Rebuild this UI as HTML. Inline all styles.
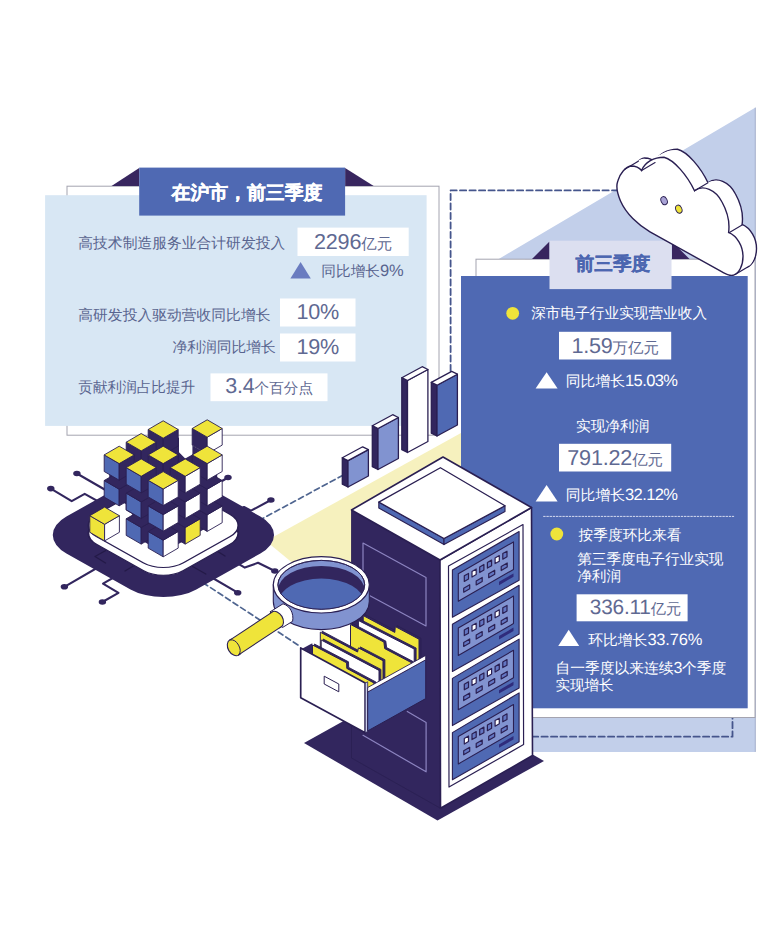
<!DOCTYPE html>
<html lang="zh"><head><meta charset="utf-8"><title>infographic</title>
<style>
html,body{margin:0;padding:0;background:#fff}
body{width:768px;height:938px;position:relative;overflow:hidden;font-family:"Liberation Sans",sans-serif}
svg{position:absolute;left:0;top:0}
.t{position:absolute;white-space:nowrap;line-height:1.2;text-rendering:geometricPrecision;font-family:"Liberation Sans",sans-serif}
.b{text-align:center;height:30px;line-height:30px}
.ib{display:inline-block;white-space:nowrap}
.j{text-align:justify;text-align-last:justify}
.n{font-family:"Liberation Sans",sans-serif;letter-spacing:-0.2px}
</style></head><body>
<svg width="768" height="938" viewBox="0 0 768 938">
<polygon points="755.5,107.5 755.5,752.0 525.0,752.0 525.0,259.0 498.7,259.0" fill="#c2cfea" />
<polyline points="755.3,108.0 755.3,751.5" fill="none" stroke="#9aa6c4" stroke-width="0.8" stroke-linejoin="round" stroke-linecap="round" />
<polygon points="266.0,541.0 461.0,433.0 461.0,530.0 335.0,598.0" fill="#f6f1be" />
<rect x="67.0" y="186.2" width="372.0" height="249.0" fill="#fff" stroke="#a4a4b0" stroke-width="1" />
<rect x="45.1" y="195.2" width="381.5" height="230.7" fill="#d8e7f4" />
<polygon points="139.2,168.0 139.2,186.0 111.5,186.0" fill="#38265f" />
<polygon points="345.1,168.0 373.7,186.0 345.1,186.0" fill="#38265f" />
<rect x="139.2" y="167.6" width="205.9" height="48.0" fill="#4f69b3" />
<rect x="297.5" y="227.6" width="111.2" height="28.4" fill="#fff" />
<rect x="280.0" y="298.5" width="75.5" height="28.0" fill="#fff" />
<rect x="280.0" y="333.5" width="75.5" height="28.0" fill="#fff" />
<rect x="210.5" y="373.4" width="117.0" height="27.8" fill="#fff" />
<polygon points="300.6,262.0 310.8,278.4 290.4,278.4" fill="#6a7cc0" />
<polyline points="450.6,371.0 450.6,190.4 620.0,190.4" fill="none" stroke="#45558c" stroke-width="1.8" stroke-linejoin="round" stroke-linecap="round" stroke-dasharray="6.2 3.3"/>
<polyline points="532.0,736.7 732.5,736.7 732.5,718.0" fill="none" stroke="#45558c" stroke-width="1.8" stroke-linejoin="round" stroke-linecap="round" stroke-dasharray="6.2 3.3"/>
<rect x="476.0" y="259.2" width="279.0" height="458.3" fill="#fff" stroke="#a4a4b0" stroke-width="1" />
<rect x="461.0" y="276.0" width="286.7" height="432.3" fill="#4f69b3" />
<polygon points="549.5,241.5 549.5,259.0 532.0,259.0" fill="#38265f" />
<polygon points="672.0,241.5 672.0,259.0 689.5,259.0" fill="#38265f" />
<rect x="549.5" y="240.7" width="122.0" height="48.4" fill="#dcdff0" />
<rect x="559.0" y="331.8" width="112.2" height="27.7" fill="#fff" />
<rect x="559.0" y="443.8" width="112.2" height="27.7" fill="#fff" />
<rect x="576.6" y="594.3" width="111.0" height="27.0" fill="#fff" />
<polygon points="546.6,372.2 557.6,388.6 535.6,388.6" fill="#fff" />
<polygon points="546.6,485.0 557.6,501.4 535.6,501.4" fill="#fff" />
<polygon points="568.7,629.8 579.2,646.0 558.2,646.0" fill="#fff" />
<circle cx="512.7" cy="313.3" r="6.4" fill="#efe43a"/>
<circle cx="556.8" cy="534.0" r="6.4" fill="#efe43a"/>
<polyline points="543.6,516.4 733.7,516.4" fill="none" stroke="#d5daf0" stroke-width="1" stroke-linejoin="round" stroke-linecap="round" stroke-dasharray="1.6 1.6"/>
<polyline points="343.0,475.2 263.0,518.3" fill="none" stroke="#4f6590" stroke-width="1.7" stroke-linejoin="round" stroke-linecap="round" stroke-dasharray="5.5 3.5"/>
<polyline points="203.0,582.7 300.0,646.3" fill="none" stroke="#4f6590" stroke-width="1.7" stroke-linejoin="round" stroke-linecap="round" stroke-dasharray="5.5 3.5"/>
<polyline points="76.9,473.5 105.5,490.0 120.0,498.0" fill="none" stroke="#32265e" stroke-width="2.1" stroke-linejoin="round" stroke-linecap="round" />
<ellipse cx="76.9" cy="473.5" rx="3.7" ry="2.8" fill="#32265e" />
<polyline points="50.8,488.6 71.7,501.1 84.7,493.9 110.0,508.0" fill="none" stroke="#32265e" stroke-width="2.1" stroke-linejoin="round" stroke-linecap="round" />
<ellipse cx="50.8" cy="488.6" rx="3.7" ry="2.8" fill="#32265e" />
<polyline points="64.4,586.8 105.5,563.0" fill="none" stroke="#32265e" stroke-width="2.1" stroke-linejoin="round" stroke-linecap="round" />
<ellipse cx="64.4" cy="586.8" rx="3.7" ry="2.8" fill="#32265e" />
<polyline points="102.4,602.0 118.5,592.8 103.0,583.7 125.0,571.0" fill="none" stroke="#32265e" stroke-width="2.1" stroke-linejoin="round" stroke-linecap="round" />
<ellipse cx="102.4" cy="602.0" rx="3.7" ry="2.8" fill="#32265e" />
<polyline points="228.0,477.5 205.0,491.0" fill="none" stroke="#32265e" stroke-width="2.1" stroke-linejoin="round" stroke-linecap="round" />
<ellipse cx="228.0" cy="477.5" rx="3.7" ry="2.8" fill="#32265e" />
<polyline points="270.9,500.0 251.0,510.7 244.0,507.0 225.0,518.0" fill="none" stroke="#32265e" stroke-width="2.1" stroke-linejoin="round" stroke-linecap="round" />
<ellipse cx="270.9" cy="500.0" rx="3.7" ry="2.8" fill="#32265e" />
<polyline points="274.8,571.0 258.0,562.8 244.8,567.6 225.0,556.0" fill="none" stroke="#32265e" stroke-width="2.1" stroke-linejoin="round" stroke-linecap="round" />
<ellipse cx="274.8" cy="571.0" rx="3.7" ry="2.8" fill="#32265e" />
<polyline points="237.7,592.7 205.8,574.0" fill="none" stroke="#32265e" stroke-width="2.1" stroke-linejoin="round" stroke-linecap="round" />
<ellipse cx="237.7" cy="592.7" rx="3.7" ry="2.8" fill="#32265e" />
<rect x="-75.0" y="-75.0" width="150.0" height="150.0" rx="38.0" fill="#32265e" transform="matrix(0.866 0.486 -0.866 0.486 163.4 535.0)"/>
<polyline points="105.5,563.0 95.0,556.5 112.0,547.0" fill="none" stroke="#241a48" stroke-width="1.4" stroke-linejoin="round" stroke-linecap="round" />
<polyline points="125.0,571.0 140.0,562.0" fill="none" stroke="#241a48" stroke-width="1.4" stroke-linejoin="round" stroke-linecap="round" />
<polyline points="205.8,574.0 190.0,565.0" fill="none" stroke="#241a48" stroke-width="1.4" stroke-linejoin="round" stroke-linecap="round" />
<polyline points="225.0,556.0 212.0,548.0" fill="none" stroke="#241a48" stroke-width="1.4" stroke-linejoin="round" stroke-linecap="round" />
<rect x="-50.0" y="-50.0" width="100.0" height="100.0" rx="23.0" fill="#fff" stroke="#2a1f52" stroke-width="1.5" transform="matrix(0.866 0.486 -0.866 0.486 163.3 533.3)"/>
<rect x="-50.0" y="-50.0" width="100.0" height="100.0" rx="23.0" fill="#fff" stroke="#2a1f52" stroke-width="1.4" transform="matrix(0.866 0.486 -0.866 0.486 163.3 525.5)"/>
<polygon points="109.2,459.9 163.2,428.8 179.0,437.9 179.0,452.2 185.2,458.6 192.4,454.4 192.4,445.6 217.2,459.9 217.2,521.7 163.2,552.8 132.2,535.0 132.2,507.8 109.2,494.5" fill="#32265e" />
<polygon points="192.2,428.5 207.2,437.2 207.2,453.8 192.2,445.1" fill="#32265e" stroke="#2a1f52" stroke-width="0.9" stroke-linejoin="round" />
<polygon points="207.2,437.2 222.2,428.5 222.2,445.1 207.2,453.8" fill="#fff" stroke="#2a1f52" stroke-width="0.9" stroke-linejoin="round" />
<polygon points="207.2,419.8 222.2,428.5 207.2,437.2 192.2,428.5" fill="#efe43a" stroke="#2a1f52" stroke-width="0.9" stroke-linejoin="round" />
<polygon points="148.2,480.7 163.2,489.4 163.2,506.0 148.2,497.3" fill="#32265e" stroke="#2a1f52" stroke-width="0.9" stroke-linejoin="round" />
<polygon points="163.2,489.4 178.2,480.7 178.2,497.3 163.2,506.0" fill="#32265e" stroke="#2a1f52" stroke-width="0.9" stroke-linejoin="round" />
<polygon points="163.2,472.0 178.2,480.7 163.2,489.4 148.2,480.7" fill="#32265e" stroke="#2a1f52" stroke-width="0.9" stroke-linejoin="round" />
<polygon points="126.2,493.4 141.2,502.1 141.2,518.7 126.2,510.0" fill="#32265e" stroke="#2a1f52" stroke-width="0.9" stroke-linejoin="round" />
<polygon points="141.2,502.1 156.2,493.4 156.2,510.0 141.2,518.7" fill="#32265e" stroke="#2a1f52" stroke-width="0.9" stroke-linejoin="round" />
<polygon points="141.2,484.7 156.2,493.4 141.2,502.1 126.2,493.4" fill="#32265e" stroke="#2a1f52" stroke-width="0.9" stroke-linejoin="round" />
<polygon points="170.2,493.4 185.2,502.1 185.2,518.7 170.2,510.0" fill="#32265e" stroke="#2a1f52" stroke-width="0.9" stroke-linejoin="round" />
<polygon points="185.2,502.1 200.2,493.4 200.2,510.0 185.2,518.7" fill="#32265e" stroke="#2a1f52" stroke-width="0.9" stroke-linejoin="round" />
<polygon points="185.2,484.7 200.2,493.4 185.2,502.1 170.2,493.4" fill="#32265e" stroke="#2a1f52" stroke-width="0.9" stroke-linejoin="round" />
<polygon points="148.2,506.1 163.2,514.8 163.2,531.4 148.2,522.7" fill="#32265e" stroke="#2a1f52" stroke-width="0.9" stroke-linejoin="round" />
<polygon points="163.2,514.8 178.2,506.1 178.2,522.7 163.2,531.4" fill="#32265e" stroke="#2a1f52" stroke-width="0.9" stroke-linejoin="round" />
<polygon points="163.2,497.4 178.2,506.1 163.2,514.8 148.2,506.1" fill="#32265e" stroke="#2a1f52" stroke-width="0.9" stroke-linejoin="round" />
<polygon points="192.2,506.1 207.2,514.8 207.2,531.4 192.2,522.7" fill="#32265e" stroke="#2a1f52" stroke-width="0.9" stroke-linejoin="round" />
<polygon points="207.2,514.8 222.2,506.1 222.2,522.7 207.2,531.4" fill="#fff" stroke="#2a1f52" stroke-width="0.9" stroke-linejoin="round" />
<polygon points="207.2,497.4 222.2,506.1 207.2,514.8 192.2,506.1" fill="#32265e" stroke="#2a1f52" stroke-width="0.9" stroke-linejoin="round" />
<polygon points="126.2,518.8 141.2,527.5 141.2,544.1 126.2,535.4" fill="#4f69b3" stroke="#2a1f52" stroke-width="0.9" stroke-linejoin="round" />
<polygon points="141.2,527.5 156.2,518.8 156.2,535.4 141.2,544.1" fill="#32265e" stroke="#2a1f52" stroke-width="0.9" stroke-linejoin="round" />
<polygon points="141.2,510.1 156.2,518.8 141.2,527.5 126.2,518.8" fill="#32265e" stroke="#2a1f52" stroke-width="0.9" stroke-linejoin="round" />
<polygon points="170.2,518.8 185.2,527.5 185.2,544.1 170.2,535.4" fill="#32265e" stroke="#2a1f52" stroke-width="0.9" stroke-linejoin="round" />
<polygon points="185.2,527.5 200.2,518.8 200.2,535.4 185.2,544.1" fill="#efe43a" stroke="#2a1f52" stroke-width="0.9" stroke-linejoin="round" />
<polygon points="185.2,510.1 200.2,518.8 185.2,527.5 170.2,518.8" fill="#32265e" stroke="#2a1f52" stroke-width="0.9" stroke-linejoin="round" />
<polygon points="148.2,531.5 163.2,540.2 163.2,556.8 148.2,548.1" fill="#4f69b3" stroke="#2a1f52" stroke-width="0.9" stroke-linejoin="round" />
<polygon points="163.2,540.2 178.2,531.5 178.2,548.1 163.2,556.8" fill="#fff" stroke="#2a1f52" stroke-width="0.9" stroke-linejoin="round" />
<polygon points="163.2,522.8 178.2,531.5 163.2,540.2 148.2,531.5" fill="#32265e" stroke="#2a1f52" stroke-width="0.9" stroke-linejoin="round" />
<polygon points="148.2,455.1 163.2,463.8 163.2,480.4 148.2,471.7" fill="#32265e" stroke="#2a1f52" stroke-width="0.9" stroke-linejoin="round" />
<polygon points="163.2,463.8 178.2,455.1 178.2,471.7 163.2,480.4" fill="#32265e" stroke="#2a1f52" stroke-width="0.9" stroke-linejoin="round" />
<polygon points="163.2,446.4 178.2,455.1 163.2,463.8 148.2,455.1" fill="#32265e" stroke="#2a1f52" stroke-width="0.9" stroke-linejoin="round" />
<polygon points="126.2,467.8 141.2,476.5 141.2,493.1 126.2,484.4" fill="#32265e" stroke="#2a1f52" stroke-width="0.9" stroke-linejoin="round" />
<polygon points="141.2,476.5 156.2,467.8 156.2,484.4 141.2,493.1" fill="#32265e" stroke="#2a1f52" stroke-width="0.9" stroke-linejoin="round" />
<polygon points="141.2,459.1 156.2,467.8 141.2,476.5 126.2,467.8" fill="#32265e" stroke="#2a1f52" stroke-width="0.9" stroke-linejoin="round" />
<polygon points="170.2,467.8 185.2,476.5 185.2,493.1 170.2,484.4" fill="#32265e" stroke="#2a1f52" stroke-width="0.9" stroke-linejoin="round" />
<polygon points="185.2,476.5 200.2,467.8 200.2,484.4 185.2,493.1" fill="#32265e" stroke="#2a1f52" stroke-width="0.9" stroke-linejoin="round" />
<polygon points="185.2,459.1 200.2,467.8 185.2,476.5 170.2,467.8" fill="#32265e" stroke="#2a1f52" stroke-width="0.9" stroke-linejoin="round" />
<polygon points="104.2,480.5 119.2,489.2 119.2,505.8 104.2,497.1" fill="#4f69b3" stroke="#2a1f52" stroke-width="0.9" stroke-linejoin="round" />
<polygon points="119.2,489.2 134.2,480.5 134.2,497.1 119.2,505.8" fill="#32265e" stroke="#2a1f52" stroke-width="0.9" stroke-linejoin="round" />
<polygon points="119.2,471.8 134.2,480.5 119.2,489.2 104.2,480.5" fill="#32265e" stroke="#2a1f52" stroke-width="0.9" stroke-linejoin="round" />
<polygon points="148.2,480.5 163.2,489.2 163.2,505.8 148.2,497.1" fill="#32265e" stroke="#2a1f52" stroke-width="0.9" stroke-linejoin="round" />
<polygon points="163.2,489.2 178.2,480.5 178.2,497.1 163.2,505.8" fill="#32265e" stroke="#2a1f52" stroke-width="0.9" stroke-linejoin="round" />
<polygon points="163.2,471.8 178.2,480.5 163.2,489.2 148.2,480.5" fill="#32265e" stroke="#2a1f52" stroke-width="0.9" stroke-linejoin="round" />
<polygon points="192.2,480.5 207.2,489.2 207.2,505.8 192.2,497.1" fill="#32265e" stroke="#2a1f52" stroke-width="0.9" stroke-linejoin="round" />
<polygon points="207.2,489.2 222.2,480.5 222.2,497.1 207.2,505.8" fill="#fff" stroke="#2a1f52" stroke-width="0.9" stroke-linejoin="round" />
<polygon points="207.2,471.8 222.2,480.5 207.2,489.2 192.2,480.5" fill="#32265e" stroke="#2a1f52" stroke-width="0.9" stroke-linejoin="round" />
<polygon points="126.2,493.2 141.2,501.9 141.2,518.5 126.2,509.8" fill="#4f69b3" stroke="#2a1f52" stroke-width="0.9" stroke-linejoin="round" />
<polygon points="141.2,501.9 156.2,493.2 156.2,509.8 141.2,518.5" fill="#32265e" stroke="#2a1f52" stroke-width="0.9" stroke-linejoin="round" />
<polygon points="141.2,484.5 156.2,493.2 141.2,501.9 126.2,493.2" fill="#32265e" stroke="#2a1f52" stroke-width="0.9" stroke-linejoin="round" />
<polygon points="170.2,493.2 185.2,501.9 185.2,518.5 170.2,509.8" fill="#32265e" stroke="#2a1f52" stroke-width="0.9" stroke-linejoin="round" />
<polygon points="185.2,501.9 200.2,493.2 200.2,509.8 185.2,518.5" fill="#fff" stroke="#2a1f52" stroke-width="0.9" stroke-linejoin="round" />
<polygon points="185.2,484.5 200.2,493.2 185.2,501.9 170.2,493.2" fill="#32265e" stroke="#2a1f52" stroke-width="0.9" stroke-linejoin="round" />
<polygon points="148.2,505.9 163.2,514.6 163.2,531.2 148.2,522.5" fill="#4f69b3" stroke="#2a1f52" stroke-width="0.9" stroke-linejoin="round" />
<polygon points="163.2,514.6 178.2,505.9 178.2,522.5 163.2,531.2" fill="#fff" stroke="#2a1f52" stroke-width="0.9" stroke-linejoin="round" />
<polygon points="163.2,497.2 178.2,505.9 163.2,514.6 148.2,505.9" fill="#32265e" stroke="#2a1f52" stroke-width="0.9" stroke-linejoin="round" />
<polygon points="148.2,429.5 163.2,438.2 163.2,454.8 148.2,446.1" fill="#32265e" stroke="#2a1f52" stroke-width="0.9" stroke-linejoin="round" />
<polygon points="163.2,438.2 178.2,429.5 178.2,446.1 163.2,454.8" fill="#32265e" stroke="#2a1f52" stroke-width="0.9" stroke-linejoin="round" />
<polygon points="163.2,420.8 178.2,429.5 163.2,438.2 148.2,429.5" fill="#efe43a" stroke="#2a1f52" stroke-width="0.9" stroke-linejoin="round" />
<polygon points="126.2,442.2 141.2,450.9 141.2,467.5 126.2,458.8" fill="#32265e" stroke="#2a1f52" stroke-width="0.9" stroke-linejoin="round" />
<polygon points="141.2,450.9 156.2,442.2 156.2,458.8 141.2,467.5" fill="#32265e" stroke="#2a1f52" stroke-width="0.9" stroke-linejoin="round" />
<polygon points="141.2,433.5 156.2,442.2 141.2,450.9 126.2,442.2" fill="#efe43a" stroke="#2a1f52" stroke-width="0.9" stroke-linejoin="round" />
<polygon points="104.2,454.9 119.2,463.6 119.2,480.2 104.2,471.5" fill="#4f69b3" stroke="#2a1f52" stroke-width="0.9" stroke-linejoin="round" />
<polygon points="119.2,463.6 134.2,454.9 134.2,471.5 119.2,480.2" fill="#32265e" stroke="#2a1f52" stroke-width="0.9" stroke-linejoin="round" />
<polygon points="119.2,446.2 134.2,454.9 119.2,463.6 104.2,454.9" fill="#efe43a" stroke="#2a1f52" stroke-width="0.9" stroke-linejoin="round" />
<polygon points="148.2,454.9 163.2,463.6 163.2,480.2 148.2,471.5" fill="#32265e" stroke="#2a1f52" stroke-width="0.9" stroke-linejoin="round" />
<polygon points="163.2,463.6 178.2,454.9 178.2,471.5 163.2,480.2" fill="#32265e" stroke="#2a1f52" stroke-width="0.9" stroke-linejoin="round" />
<polygon points="163.2,446.2 178.2,454.9 163.2,463.6 148.2,454.9" fill="#efe43a" stroke="#2a1f52" stroke-width="0.9" stroke-linejoin="round" />
<polygon points="192.2,454.9 207.2,463.6 207.2,480.2 192.2,471.5" fill="#32265e" stroke="#2a1f52" stroke-width="0.9" stroke-linejoin="round" />
<polygon points="207.2,463.6 222.2,454.9 222.2,471.5 207.2,480.2" fill="#fff" stroke="#2a1f52" stroke-width="0.9" stroke-linejoin="round" />
<polygon points="207.2,446.2 222.2,454.9 207.2,463.6 192.2,454.9" fill="#efe43a" stroke="#2a1f52" stroke-width="0.9" stroke-linejoin="round" />
<polygon points="126.2,467.6 141.2,476.3 141.2,492.9 126.2,484.2" fill="#4f69b3" stroke="#2a1f52" stroke-width="0.9" stroke-linejoin="round" />
<polygon points="141.2,476.3 156.2,467.6 156.2,484.2 141.2,492.9" fill="#32265e" stroke="#2a1f52" stroke-width="0.9" stroke-linejoin="round" />
<polygon points="141.2,458.9 156.2,467.6 141.2,476.3 126.2,467.6" fill="#efe43a" stroke="#2a1f52" stroke-width="0.9" stroke-linejoin="round" />
<polygon points="170.2,467.6 185.2,476.3 185.2,492.9 170.2,484.2" fill="#32265e" stroke="#2a1f52" stroke-width="0.9" stroke-linejoin="round" />
<polygon points="185.2,476.3 200.2,467.6 200.2,484.2 185.2,492.9" fill="#fff" stroke="#2a1f52" stroke-width="0.9" stroke-linejoin="round" />
<polygon points="185.2,458.9 200.2,467.6 185.2,476.3 170.2,467.6" fill="#efe43a" stroke="#2a1f52" stroke-width="0.9" stroke-linejoin="round" />
<polygon points="148.2,480.3 163.2,489.0 163.2,505.6 148.2,496.9" fill="#4f69b3" stroke="#2a1f52" stroke-width="0.9" stroke-linejoin="round" />
<polygon points="163.2,489.0 178.2,480.3 178.2,496.9 163.2,505.6" fill="#fff" stroke="#2a1f52" stroke-width="0.9" stroke-linejoin="round" />
<polygon points="163.2,471.6 178.2,480.3 163.2,489.0 148.2,480.3" fill="#efe43a" stroke="#2a1f52" stroke-width="0.9" stroke-linejoin="round" />
<polygon points="89.8,515.7 104.6,524.3 104.6,540.9 89.8,532.3" fill="#efe43a" stroke="#2a1f52" stroke-width="0.9" stroke-linejoin="round" />
<polygon points="104.6,524.3 119.4,515.7 119.4,532.3 104.6,540.9" fill="#fff" stroke="#2a1f52" stroke-width="0.9" stroke-linejoin="round" />
<polygon points="104.6,507.1 119.4,515.7 104.6,524.3 89.8,515.7" fill="#efe43a" stroke="#2a1f52" stroke-width="0.9" stroke-linejoin="round" />
<polygon points="342.3,484.2 348.0,487.0 348.0,460.6 342.3,457.8" fill="#32265e" stroke="#2a1f52" stroke-width="1.3" stroke-linejoin="round" />
<polygon points="348.0,487.0 368.4,476.0 368.4,449.6 348.0,460.6" fill="#8193d0" stroke="#2a1f52" stroke-width="1.3" stroke-linejoin="round" />
<polygon points="342.3,457.8 348.0,460.6 368.4,449.6 362.7,446.8" fill="#fff" stroke="#2a1f52" stroke-width="1.3" stroke-linejoin="round" />
<polygon points="372.3,466.7 378.0,469.5 378.0,428.5 372.3,425.7" fill="#32265e" stroke="#2a1f52" stroke-width="1.3" stroke-linejoin="round" />
<polygon points="378.0,469.5 398.4,458.5 398.4,417.5 378.0,428.5" fill="#8193d0" stroke="#2a1f52" stroke-width="1.3" stroke-linejoin="round" />
<polygon points="372.3,425.7 378.0,428.5 398.4,417.5 392.7,414.7" fill="#fff" stroke="#2a1f52" stroke-width="1.3" stroke-linejoin="round" />
<polygon points="401.8,449.7 407.5,452.5 407.5,380.5 401.8,377.7" fill="#32265e" stroke="#2a1f52" stroke-width="1.3" stroke-linejoin="round" />
<polygon points="407.5,452.5 427.9,441.5 427.9,369.5 407.5,380.5" fill="#fff" stroke="#2a1f52" stroke-width="1.3" stroke-linejoin="round" />
<polygon points="401.8,377.7 407.5,380.5 427.9,369.5 422.2,366.7" fill="#fff" stroke="#2a1f52" stroke-width="1.3" stroke-linejoin="round" />
<polygon points="431.3,433.2 437.0,436.0 437.0,385.2 431.3,382.4" fill="#32265e" stroke="#2a1f52" stroke-width="1.3" stroke-linejoin="round" />
<polygon points="437.0,436.0 457.4,425.0 457.4,374.2 437.0,385.2" fill="#4f69b3" stroke="#2a1f52" stroke-width="1.3" stroke-linejoin="round" />
<polygon points="431.3,382.4 437.0,385.2 457.4,374.2 451.7,371.4" fill="#fff" stroke="#2a1f52" stroke-width="1.3" stroke-linejoin="round" />
<polygon points="304.0,743.0 437.5,820.5 544.0,761.0 410.0,684.0" fill="#32265e" />
<polygon points="351.5,510.0 440.0,560.0 440.5,808.3 351.5,758.0" fill="#32265e" stroke="#2a1f52" stroke-width="0.8" stroke-linejoin="round" />
<polygon points="440.0,560.0 531.5,507.5 532.5,755.5 440.5,808.3" fill="#fff" stroke="#2a1f52" stroke-width="1.6" stroke-linejoin="round" />
<polygon points="443.0,457.0 531.5,507.5 440.0,560.0 351.5,510.0" fill="#fff" stroke="#2a1f52" stroke-width="1.6" stroke-linejoin="round" />
<polygon points="378.8,502.1 444.0,538.5 444.0,544.6 378.8,508.0" fill="#4f69b3" stroke="#2a1f52" stroke-width="1.1" stroke-linejoin="round" />
<polygon points="444.0,538.5 505.0,505.8 505.0,511.6 444.0,544.6" fill="#4f69b3" stroke="#2a1f52" stroke-width="1.1" stroke-linejoin="round" />
<polygon points="440.4,467.7 505.0,505.8 444.0,538.5 378.8,502.1" fill="#fff" stroke="#2a1f52" stroke-width="1.3" stroke-linejoin="round" />
<polygon points="363.0,543.0 426.0,577.5 426.0,626.0 363.0,592.0" fill="none" stroke="#8c84c0" stroke-width="1.2" stroke-linejoin="round" />
<polyline points="407.3,711.4 426.1,722.4 426.1,771.8 363.0,735.3" fill="none" stroke="#8c84c0" stroke-width="1.2" stroke-linejoin="round" stroke-linecap="round" />
<polygon points="448.5,566.0 523.0,524.6 523.6,744.6 449.0,787.0" fill="none" stroke="#2a1f52" stroke-width="1.2" stroke-linejoin="round" />
<polygon points="452.4,570.0 519.1,531.5 519.1,580.3 452.4,617.2" fill="#4f69b3" stroke="#2a1f52" stroke-width="1.1" stroke-linejoin="round" />
<polygon points="458.3,573.8 513.5,541.9 513.5,569.4 458.3,601.3" fill="#8193d0" stroke="#2a1f52" stroke-width="1.1" stroke-linejoin="round" />
<polygon points="464.3,575.8 468.5,573.4 468.5,579.0 464.3,581.4" fill="#6376c2" stroke="#2a1f52" stroke-width="1.2" stroke-linejoin="round" />
<polygon points="472.0,571.4 476.2,569.0 476.2,574.6 472.0,577.0" fill="#fff" stroke="#2a1f52" stroke-width="1.2" stroke-linejoin="round" />
<polygon points="479.7,566.9 483.9,564.5 483.9,570.1 479.7,572.5" fill="#6376c2" stroke="#2a1f52" stroke-width="1.2" stroke-linejoin="round" />
<polygon points="487.4,562.5 491.6,560.1 491.6,565.7 487.4,568.1" fill="#6376c2" stroke="#2a1f52" stroke-width="1.2" stroke-linejoin="round" />
<polygon points="495.1,558.0 499.3,555.6 499.3,561.2 495.1,563.6" fill="#fff" stroke="#2a1f52" stroke-width="1.2" stroke-linejoin="round" />
<polygon points="502.8,553.6 507.0,551.2 507.0,556.8 502.8,559.2" fill="#6376c2" stroke="#2a1f52" stroke-width="1.2" stroke-linejoin="round" />
<polygon points="463.7,588.2 469.7,584.7 469.7,588.7 463.7,592.2" fill="#6376c2" stroke="#2a1f52" stroke-width="1.2" stroke-linejoin="round" />
<polygon points="476.2,580.9 482.2,577.4 482.2,581.4 476.2,584.9" fill="#6376c2" stroke="#2a1f52" stroke-width="1.2" stroke-linejoin="round" />
<polygon points="488.7,573.7 494.7,570.2 494.7,574.2 488.7,577.7" fill="#6376c2" stroke="#2a1f52" stroke-width="1.2" stroke-linejoin="round" />
<polygon points="501.2,566.5 507.2,563.0 507.2,567.0 501.2,570.5" fill="#6376c2" stroke="#2a1f52" stroke-width="1.2" stroke-linejoin="round" />
<polygon points="499.0,581.8 513.5,573.4 513.5,576.8 499.0,585.2" fill="#2f2c7c" />
<polygon points="452.4,624.2 519.1,585.3 519.1,634.1 452.4,671.4" fill="#4f69b3" stroke="#2a1f52" stroke-width="1.1" stroke-linejoin="round" />
<polygon points="458.3,628.0 513.5,596.1 513.5,623.6 458.3,655.5" fill="#8193d0" stroke="#2a1f52" stroke-width="1.1" stroke-linejoin="round" />
<polygon points="464.3,630.0 468.5,627.6 468.5,633.2 464.3,635.6" fill="#6376c2" stroke="#2a1f52" stroke-width="1.2" stroke-linejoin="round" />
<polygon points="472.0,625.6 476.2,623.2 476.2,628.8 472.0,631.2" fill="#fff" stroke="#2a1f52" stroke-width="1.2" stroke-linejoin="round" />
<polygon points="479.7,621.1 483.9,618.7 483.9,624.3 479.7,626.7" fill="#6376c2" stroke="#2a1f52" stroke-width="1.2" stroke-linejoin="round" />
<polygon points="487.4,616.7 491.6,614.3 491.6,619.9 487.4,622.3" fill="#6376c2" stroke="#2a1f52" stroke-width="1.2" stroke-linejoin="round" />
<polygon points="495.1,612.2 499.3,609.8 499.3,615.4 495.1,617.8" fill="#fff" stroke="#2a1f52" stroke-width="1.2" stroke-linejoin="round" />
<polygon points="502.8,607.8 507.0,605.4 507.0,611.0 502.8,613.4" fill="#6376c2" stroke="#2a1f52" stroke-width="1.2" stroke-linejoin="round" />
<polygon points="463.7,642.4 469.7,638.9 469.7,642.9 463.7,646.4" fill="#6376c2" stroke="#2a1f52" stroke-width="1.2" stroke-linejoin="round" />
<polygon points="476.2,635.1 482.2,631.6 482.2,635.6 476.2,639.1" fill="#6376c2" stroke="#2a1f52" stroke-width="1.2" stroke-linejoin="round" />
<polygon points="488.7,627.9 494.7,624.4 494.7,628.4 488.7,631.9" fill="#6376c2" stroke="#2a1f52" stroke-width="1.2" stroke-linejoin="round" />
<polygon points="501.2,620.7 507.2,617.2 507.2,621.2 501.2,624.7" fill="#6376c2" stroke="#2a1f52" stroke-width="1.2" stroke-linejoin="round" />
<polygon points="499.0,636.0 513.5,627.6 513.5,631.0 499.0,639.4" fill="#2f2c7c" />
<polygon points="452.4,678.4 519.1,639.1 519.1,687.9 452.4,725.6" fill="#4f69b3" stroke="#2a1f52" stroke-width="1.1" stroke-linejoin="round" />
<polygon points="458.3,682.2 513.5,650.3 513.5,677.8 458.3,709.7" fill="#8193d0" stroke="#2a1f52" stroke-width="1.1" stroke-linejoin="round" />
<polygon points="464.3,684.2 468.5,681.8 468.5,687.4 464.3,689.8" fill="#6376c2" stroke="#2a1f52" stroke-width="1.2" stroke-linejoin="round" />
<polygon points="472.0,679.8 476.2,677.4 476.2,683.0 472.0,685.4" fill="#fff" stroke="#2a1f52" stroke-width="1.2" stroke-linejoin="round" />
<polygon points="479.7,675.3 483.9,672.9 483.9,678.5 479.7,680.9" fill="#6376c2" stroke="#2a1f52" stroke-width="1.2" stroke-linejoin="round" />
<polygon points="487.4,670.9 491.6,668.5 491.6,674.1 487.4,676.5" fill="#fff" stroke="#2a1f52" stroke-width="1.2" stroke-linejoin="round" />
<polygon points="495.1,666.4 499.3,664.0 499.3,669.6 495.1,672.0" fill="#6376c2" stroke="#2a1f52" stroke-width="1.2" stroke-linejoin="round" />
<polygon points="502.8,662.0 507.0,659.6 507.0,665.2 502.8,667.6" fill="#6376c2" stroke="#2a1f52" stroke-width="1.2" stroke-linejoin="round" />
<polygon points="463.7,696.6 469.7,693.1 469.7,697.1 463.7,700.6" fill="#6376c2" stroke="#2a1f52" stroke-width="1.2" stroke-linejoin="round" />
<polygon points="476.2,689.3 482.2,685.8 482.2,689.8 476.2,693.3" fill="#6376c2" stroke="#2a1f52" stroke-width="1.2" stroke-linejoin="round" />
<polygon points="488.7,682.1 494.7,678.6 494.7,682.6 488.7,686.1" fill="#6376c2" stroke="#2a1f52" stroke-width="1.2" stroke-linejoin="round" />
<polygon points="501.2,674.9 507.2,671.4 507.2,675.4 501.2,678.9" fill="#6376c2" stroke="#2a1f52" stroke-width="1.2" stroke-linejoin="round" />
<polygon points="499.0,690.2 513.5,681.8 513.5,685.2 499.0,693.6" fill="#2f2c7c" />
<polygon points="452.4,732.6 519.1,692.9 519.1,741.7 452.4,779.8" fill="#4f69b3" stroke="#2a1f52" stroke-width="1.1" stroke-linejoin="round" />
<polygon points="458.3,736.4 513.5,704.5 513.5,732.0 458.3,763.9" fill="#8193d0" stroke="#2a1f52" stroke-width="1.1" stroke-linejoin="round" />
<polygon points="464.3,738.4 468.5,736.0 468.5,741.6 464.3,744.0" fill="#fff" stroke="#2a1f52" stroke-width="1.2" stroke-linejoin="round" />
<polygon points="472.0,734.0 476.2,731.6 476.2,737.2 472.0,739.6" fill="#6376c2" stroke="#2a1f52" stroke-width="1.2" stroke-linejoin="round" />
<polygon points="479.7,729.5 483.9,727.1 483.9,732.7 479.7,735.1" fill="#6376c2" stroke="#2a1f52" stroke-width="1.2" stroke-linejoin="round" />
<polygon points="487.4,725.1 491.6,722.7 491.6,728.3 487.4,730.7" fill="#6376c2" stroke="#2a1f52" stroke-width="1.2" stroke-linejoin="round" />
<polygon points="495.1,720.6 499.3,718.2 499.3,723.8 495.1,726.2" fill="#fff" stroke="#2a1f52" stroke-width="1.2" stroke-linejoin="round" />
<polygon points="502.8,716.2 507.0,713.8 507.0,719.4 502.8,721.8" fill="#6376c2" stroke="#2a1f52" stroke-width="1.2" stroke-linejoin="round" />
<polygon points="463.7,750.8 469.7,747.3 469.7,751.3 463.7,754.8" fill="#6376c2" stroke="#2a1f52" stroke-width="1.2" stroke-linejoin="round" />
<polygon points="476.2,743.5 482.2,740.0 482.2,744.0 476.2,747.5" fill="#6376c2" stroke="#2a1f52" stroke-width="1.2" stroke-linejoin="round" />
<polygon points="488.7,736.3 494.7,732.8 494.7,736.8 488.7,740.3" fill="#6376c2" stroke="#2a1f52" stroke-width="1.2" stroke-linejoin="round" />
<polygon points="501.2,729.1 507.2,725.6 507.2,729.6 501.2,733.1" fill="#6376c2" stroke="#2a1f52" stroke-width="1.2" stroke-linejoin="round" />
<polygon points="499.0,744.4 513.5,736.0 513.5,739.4 499.0,747.8" fill="#2f2c7c" />
<polygon points="300.7,647.9 312.0,641.6 312.0,660.0 300.7,652.0" fill="#fff" />
<polygon points="302.5,648.6 312.3,643.2 312.3,654.0" fill="#32265e" />
<polygon points="365.1,614.6 396.7,631.4 397.2,625.6 420.9,638.2 420.9,678.2 397.2,665.6 396.7,671.4 365.1,654.6" fill="#32265e" stroke="#2a1f52" stroke-width="0.9" stroke-linejoin="round" />
<polygon points="363.2,615.6 394.8,632.4 395.3,626.6 419.0,639.2 419.0,679.2 395.3,666.6 394.8,672.4 363.2,655.6" fill="#efe43a" stroke="#2a1f52" stroke-width="1.0" stroke-linejoin="round" />
<polygon points="360.3,619.5 416.1,648.0 416.1,688.0 360.3,659.5" fill="#32265e" stroke="#2a1f52" stroke-width="0.9" stroke-linejoin="round" />
<polygon points="358.4,620.5 414.2,649.0 414.2,689.0 358.4,660.5" fill="#fff" stroke="#2a1f52" stroke-width="1.0" stroke-linejoin="round" />
<polygon points="352.4,623.4 385.8,641.1 386.6,647.6 413.2,661.6 413.2,701.6 386.6,687.6 385.8,681.1 352.4,663.4" fill="#32265e" stroke="#2a1f52" stroke-width="0.9" stroke-linejoin="round" />
<polygon points="350.5,624.4 383.9,642.1 384.7,648.6 411.3,662.6 411.3,702.6 384.7,688.6 383.9,682.1 350.5,664.4" fill="#efe43a" stroke="#2a1f52" stroke-width="1.0" stroke-linejoin="round" />
<polygon points="322.2,631.2 359.5,651.0 360.3,646.9 384.9,659.7 384.9,699.7 360.3,686.9 359.5,691.0 322.2,671.2" fill="#32265e" stroke="#2a1f52" stroke-width="0.9" stroke-linejoin="round" />
<polygon points="320.3,632.2 357.6,652.0 358.4,647.9 383.0,660.7 383.0,700.7 358.4,687.9 357.6,692.0 320.3,672.2" fill="#efe43a" stroke="#2a1f52" stroke-width="1.0" stroke-linejoin="round" />
<polygon points="323.1,639.0 380.9,669.4 380.9,709.4 323.1,679.0" fill="#32265e" stroke="#2a1f52" stroke-width="0.9" stroke-linejoin="round" />
<polygon points="321.2,640.0 379.0,670.4 379.0,710.4 321.2,680.0" fill="#fff" stroke="#2a1f52" stroke-width="1.0" stroke-linejoin="round" />
<polygon points="314.4,644.0 348.5,661.8 348.7,667.4 375.9,682.0 375.9,722.0 348.7,707.4 348.5,701.8 314.4,684.0" fill="#32265e" stroke="#2a1f52" stroke-width="0.9" stroke-linejoin="round" />
<polygon points="312.5,645.0 346.6,662.8 346.8,668.4 374.0,683.0 374.0,723.0 346.8,708.4 346.6,702.8 312.5,685.0" fill="#efe43a" stroke="#2a1f52" stroke-width="1.0" stroke-linejoin="round" />
<polygon points="300.7,647.9 365.2,683.0 365.2,732.8 300.7,697.7" fill="#fff" stroke="#2a1f52" stroke-width="1.7" stroke-linejoin="round" />
<polygon points="365.2,683.0 367.7,681.8 367.7,731.5 365.2,732.8" fill="#c9cdea" stroke="#2a1f52" stroke-width="0.8" stroke-linejoin="round" />
<polygon points="367.7,691.8 425.7,659.6 425.7,698.6 367.7,730.9" fill="#4f69b3" stroke="#2a1f52" stroke-width="1.0" stroke-linejoin="round" />
<polygon points="367.7,687.5 425.7,655.4 425.7,659.8 367.7,692.0" fill="#fff" stroke="#2a1f52" stroke-width="0.9" stroke-linejoin="round" />
<polygon points="324.2,676.2 338.8,684.0 338.8,691.8 324.2,684.0" fill="#fff" stroke="#2a1f52" stroke-width="1.0" stroke-linejoin="round" />
<path d="M273.3,584.8 v16.6 a48,28.2 0 0 0 96,0 v-16.6 z" fill="#8193d0" stroke="#2a1f52" stroke-width="1.1"/>
<path d="M270,611.9 L283,603.8 C290,606 294,613 292.6,621.3 L282.5,627.5 Z" fill="#fff" stroke="#2a1f52" stroke-width="1.0"/>
<ellipse cx="276.4" cy="619.6" rx="6.4" ry="8.9" fill="#efe43a" stroke="#2a1f52" stroke-width="1.1" transform="rotate(-30 276.4 619.6)"/>
<ellipse cx="234.4" cy="647.4" rx="6.4" ry="8.9" fill="#efe43a" stroke="#2a1f52" stroke-width="1.1" transform="rotate(-30 234.4 647.4)"/>
<polygon points="230.2,639.9 272.2,612.1 280.6,627.1 238.6,654.9" fill="#efe43a" />
<polyline points="230.2,639.9 272.2,612.1" fill="none" stroke="#2a1f52" stroke-width="1.1" stroke-linejoin="round" stroke-linecap="round" />
<polyline points="238.6,654.9 280.6,627.1" fill="none" stroke="#2a1f52" stroke-width="1.1" stroke-linejoin="round" stroke-linecap="round" />
<path d="M230.2,639.9 A6.4,8.9 -30 0 1 238.6,654.9" fill="none" stroke="#2a1f52" stroke-width="1.0"/>
<ellipse cx="321.3" cy="584.8" rx="48.0" ry="28.2" fill="#fff" stroke="#2a1f52" stroke-width="1.1" />
<clipPath id="mh"><ellipse cx="321.3" cy="584.8" rx="43.4" ry="24.4"/></clipPath>
<ellipse cx="321.3" cy="584.8" rx="43.4" ry="24.4" fill="#8193d0" stroke="#2a1f52" stroke-width="0.9" />
<ellipse cx="321.3" cy="590.3" rx="43.4" ry="24.4" fill="#32265e" clip-path="url(#mh)"/>
<ellipse cx="321.3" cy="603.0" rx="43.4" ry="24.4" fill="#4f69b3" clip-path="url(#mh)"/>
<ellipse cx="321.3" cy="584.8" rx="43.4" ry="24.4" fill="none" stroke="#2a1f52" stroke-width="0.9" />
<path d="M733,275.3 C729,276 726,274.2 722.5,272.2 L650,231.8 C638,225 626,213.5 620.5,201 C617,193 616,186 617.8,181 C620,173 626,166.5 631,166 C636,166 640,168.5 641.6,170.5 C645,162 654,157.3 664,157.3 C674,160 687,175 694.5,190.8 C703,184 716,190 722,202 C727,211 730,222 728.6,232.4 C737,236 743,246 743,256.5 C743,266 739,273.5 733,275.3 Z" transform="translate(13.5 -8.0)" fill="#fff" stroke="#2a1f52" stroke-width="1.4"/>
<path d="M733,275.3 C729,276 726,274.2 722.5,272.2 L650,231.8 C638,225 626,213.5 620.5,201 C617,193 616,186 617.8,181 C620,173 626,166.5 631,166 C636,166 640,168.5 641.6,170.5 C645,162 654,157.3 664,157.3 C674,160 687,175 694.5,190.8 C703,184 716,190 722,202 C727,211 730,222 728.6,232.4 C737,236 743,246 743,256.5 C743,266 739,273.5 733,275.3 Z" transform="translate(12.15 -7.20)" fill="#fff"/>
<path d="M733,275.3 C729,276 726,274.2 722.5,272.2 L650,231.8 C638,225 626,213.5 620.5,201 C617,193 616,186 617.8,181 C620,173 626,166.5 631,166 C636,166 640,168.5 641.6,170.5 C645,162 654,157.3 664,157.3 C674,160 687,175 694.5,190.8 C703,184 716,190 722,202 C727,211 730,222 728.6,232.4 C737,236 743,246 743,256.5 C743,266 739,273.5 733,275.3 Z" transform="translate(10.80 -6.40)" fill="#fff"/>
<path d="M733,275.3 C729,276 726,274.2 722.5,272.2 L650,231.8 C638,225 626,213.5 620.5,201 C617,193 616,186 617.8,181 C620,173 626,166.5 631,166 C636,166 640,168.5 641.6,170.5 C645,162 654,157.3 664,157.3 C674,160 687,175 694.5,190.8 C703,184 716,190 722,202 C727,211 730,222 728.6,232.4 C737,236 743,246 743,256.5 C743,266 739,273.5 733,275.3 Z" transform="translate(9.45 -5.60)" fill="#fff"/>
<path d="M733,275.3 C729,276 726,274.2 722.5,272.2 L650,231.8 C638,225 626,213.5 620.5,201 C617,193 616,186 617.8,181 C620,173 626,166.5 631,166 C636,166 640,168.5 641.6,170.5 C645,162 654,157.3 664,157.3 C674,160 687,175 694.5,190.8 C703,184 716,190 722,202 C727,211 730,222 728.6,232.4 C737,236 743,246 743,256.5 C743,266 739,273.5 733,275.3 Z" transform="translate(8.10 -4.80)" fill="#fff"/>
<path d="M733,275.3 C729,276 726,274.2 722.5,272.2 L650,231.8 C638,225 626,213.5 620.5,201 C617,193 616,186 617.8,181 C620,173 626,166.5 631,166 C636,166 640,168.5 641.6,170.5 C645,162 654,157.3 664,157.3 C674,160 687,175 694.5,190.8 C703,184 716,190 722,202 C727,211 730,222 728.6,232.4 C737,236 743,246 743,256.5 C743,266 739,273.5 733,275.3 Z" transform="translate(6.75 -4.00)" fill="#fff"/>
<path d="M733,275.3 C729,276 726,274.2 722.5,272.2 L650,231.8 C638,225 626,213.5 620.5,201 C617,193 616,186 617.8,181 C620,173 626,166.5 631,166 C636,166 640,168.5 641.6,170.5 C645,162 654,157.3 664,157.3 C674,160 687,175 694.5,190.8 C703,184 716,190 722,202 C727,211 730,222 728.6,232.4 C737,236 743,246 743,256.5 C743,266 739,273.5 733,275.3 Z" transform="translate(5.40 -3.20)" fill="#fff"/>
<path d="M733,275.3 C729,276 726,274.2 722.5,272.2 L650,231.8 C638,225 626,213.5 620.5,201 C617,193 616,186 617.8,181 C620,173 626,166.5 631,166 C636,166 640,168.5 641.6,170.5 C645,162 654,157.3 664,157.3 C674,160 687,175 694.5,190.8 C703,184 716,190 722,202 C727,211 730,222 728.6,232.4 C737,236 743,246 743,256.5 C743,266 739,273.5 733,275.3 Z" transform="translate(4.05 -2.40)" fill="#fff"/>
<path d="M733,275.3 C729,276 726,274.2 722.5,272.2 L650,231.8 C638,225 626,213.5 620.5,201 C617,193 616,186 617.8,181 C620,173 626,166.5 631,166 C636,166 640,168.5 641.6,170.5 C645,162 654,157.3 664,157.3 C674,160 687,175 694.5,190.8 C703,184 716,190 722,202 C727,211 730,222 728.6,232.4 C737,236 743,246 743,256.5 C743,266 739,273.5 733,275.3 Z" transform="translate(2.70 -1.60)" fill="#fff"/>
<path d="M733,275.3 C729,276 726,274.2 722.5,272.2 L650,231.8 C638,225 626,213.5 620.5,201 C617,193 616,186 617.8,181 C620,173 626,166.5 631,166 C636,166 640,168.5 641.6,170.5 C645,162 654,157.3 664,157.3 C674,160 687,175 694.5,190.8 C703,184 716,190 722,202 C727,211 730,222 728.6,232.4 C737,236 743,246 743,256.5 C743,266 739,273.5 733,275.3 Z" transform="translate(1.35 -0.80)" fill="#fff"/>
<polyline points="735.5,274.3 749.0,266.3" fill="none" stroke="#2a1f52" stroke-width="1.3" stroke-linejoin="round" stroke-linecap="round" />
<path d="M733,275.3 C729,276 726,274.2 722.5,272.2 L650,231.8 C638,225 626,213.5 620.5,201 C617,193 616,186 617.8,181 C620,173 626,166.5 631,166 C636,166 640,168.5 641.6,170.5 C645,162 654,157.3 664,157.3 C674,160 687,175 694.5,190.8 C703,184 716,190 722,202 C727,211 730,222 728.6,232.4 C737,236 743,246 743,256.5 C743,266 739,273.5 733,275.3 Z" fill="#fff" stroke="#2a1f52" stroke-width="1.4"/>
<polyline points="624.8,169.2 638.3,161.2" fill="none" stroke="#2a1f52" stroke-width="1.2" stroke-linejoin="round" stroke-linecap="round" />
<polyline points="641.6,170.5 655.1,162.5" fill="none" stroke="#2a1f52" stroke-width="1.1" stroke-linejoin="round" stroke-linecap="round" />
<polyline points="694.5,190.8 708.0,182.8" fill="none" stroke="#2a1f52" stroke-width="1.1" stroke-linejoin="round" stroke-linecap="round" />
<polyline points="729.0,232.8 742.5,224.8" fill="none" stroke="#2a1f52" stroke-width="1.1" stroke-linejoin="round" stroke-linecap="round" />
<ellipse cx="664.1" cy="200.7" rx="3.0" ry="4.2" fill="#a9a3d6" stroke="#2a1f52" stroke-width="0.9" transform="rotate(-25 664.1 200.7)"/>
<ellipse cx="678.8" cy="209.2" rx="3.0" ry="4.2" fill="#efe43a" stroke="#2a1f52" stroke-width="0.9" transform="rotate(-25 678.8 209.2)"/>
</svg>
<div class="t j" id="e0" style="left:171.6px;top:181.9px;font-size:18.85px;color:#fff;font-weight:bold;letter-spacing:0.00px;-webkit-text-stroke:0.3px #fff;width:150.77px;">在沪市，前三季度</div>
<div class="t j" id="e1" style="left:78.3px;top:235.9px;font-size:14.79px;color:#58648f;font-weight:normal;letter-spacing:0.00px;width:206.96px;">高技术制造服务业合计研发投入</div>
<div class="t j" id="e2" style="left:78.3px;top:307.7px;font-size:14.79px;color:#58648f;font-weight:normal;letter-spacing:0.00px;width:192.18px;">高研发投入驱动营收同比增长</div>
<div class="t j" id="e3" style="left:172.6px;top:340.3px;font-size:14.75px;color:#58648f;font-weight:normal;letter-spacing:0.00px;width:103.27px;">净利润同比增长</div>
<div class="t j" id="e4" style="left:78.3px;top:380.2px;font-size:14.62px;color:#58648f;font-weight:normal;letter-spacing:0.00px;width:116.89px;">贡献利润占比提升</div>
<div class="t j" id="e5" style="left:321.3px;top:262.4px;font-size:14.70px;color:#58648f;font-weight:normal;letter-spacing:0.00px;width:82.22px;">同比增长<span class="n" style="font-size:16.5px">9%</span></div>
<div class="t b" style="left:297.5px;top:226.5px;width:111.0px;color:#5f6992"><span class="j ib" id="e6" style="width:78.05px;"><span class="n" style="font-size:21.6px">2296</span><span style="font-size:15.4px">亿元</span></span></div>
<div class="t b" style="left:280.0px;top:296.8px;width:75.5px;color:#5f6992"><span class="j ib" id="e7" style="width:42.65px;"><span class="n" style="font-size:21.6px">10%</span><span style="font-size:15.4px"></span></span></div>
<div class="t b" style="left:280.0px;top:331.6px;width:75.5px;color:#5f6992"><span class="j ib" id="e8" style="width:42.65px;"><span class="n" style="font-size:21.6px">19%</span><span style="font-size:15.4px"></span></span></div>
<div class="t b" style="left:210.8px;top:371.4px;width:116.7px;color:#5f6992"><span class="j ib" id="e9" style="width:87.69px;"><span class="n" style="font-size:21.5px">3.4</span><span style="font-size:14.6px">个百分点</span></span></div>
<div class="t j" id="e10" style="left:575.5px;top:253.1px;font-size:18.70px;color:#4c66b0;font-weight:bold;letter-spacing:0.00px;-webkit-text-stroke:0.3px #4c66b0;width:74.77px;">前三季度</div>
<div class="t j" id="e11" style="left:531.2px;top:305.9px;font-size:14.67px;color:#fff;font-weight:normal;letter-spacing:0.00px;width:175.90px;">深市电子行业实现营业收入</div>
<div class="t b" style="left:559.0px;top:330.6px;width:112.2px;color:#5f6992"><span class="j ib" id="e12" style="width:87.43px;"><span class="n" style="font-size:21.6px">1.59</span><span style="font-size:15.4px">万亿元</span></span></div>
<div class="t j" id="e13" style="left:565.8px;top:372.4px;font-size:14.80px;color:#fff;font-weight:normal;letter-spacing:0.00px;width:111.58px;">同比增长<span class="n" style="font-size:16.5px;letter-spacing:-0.6px">15.03%</span></div>
<div class="t j" id="e14" style="left:576.0px;top:418.5px;font-size:14.67px;color:#fff;font-weight:normal;letter-spacing:0.00px;width:73.30px;">实现净利润</div>
<div class="t b" style="left:559.0px;top:442.6px;width:112.2px;color:#5f6992"><span class="j ib" id="e15" style="width:95.66px;"><span class="n" style="font-size:21.6px">791.22</span><span style="font-size:15.4px">亿元</span></span></div>
<div class="t j" id="e16" style="left:565.8px;top:486.3px;font-size:14.80px;color:#fff;font-weight:normal;letter-spacing:0.00px;width:111.58px;">同比增长<span class="n" style="font-size:16.5px;letter-spacing:-0.6px">32.12%</span></div>
<div class="t j" id="e17" style="left:578.6px;top:527.7px;font-size:14.70px;color:#fff;font-weight:normal;letter-spacing:0.00px;width:102.83px;">按季度环比来看</div>
<div class="t j" id="e18" style="left:577.2px;top:551.9px;font-size:14.63px;color:#fff;font-weight:normal;letter-spacing:0.00px;width:146.27px;">第三季度电子行业实现</div>
<div class="t j" id="e19" style="left:577.2px;top:568.9px;font-size:14.63px;color:#fff;font-weight:normal;letter-spacing:0.00px;width:43.90px;">净利润</div>
<div class="t b" style="left:580.0px;top:592.8px;width:111.0px;color:#5f6992"><span class="j ib" id="e20" style="width:91.27px;"><span class="n" style="font-size:20.8px">336.11</span><span style="font-size:15.2px">亿元</span></span></div>
<div class="t j" id="e21" style="left:588.2px;top:630.7px;font-size:14.80px;color:#fff;font-weight:normal;letter-spacing:0.00px;width:113.97px;">环比增长<span class="n" style="font-size:16.5px">33.76%</span></div>
<div class="t j" id="e22" style="left:555.4px;top:659.1px;font-size:14.75px;color:#fff;font-weight:normal;letter-spacing:0.00px;width:170.97px;">自一季度以来连续<span class="n" style="font-size:16px">3</span>个季度</div>
<div class="t j" id="e23" style="left:555.4px;top:677.6px;font-size:14.55px;color:#fff;font-weight:normal;letter-spacing:0.00px;width:58.21px;">实现增长</div>
</body></html>
